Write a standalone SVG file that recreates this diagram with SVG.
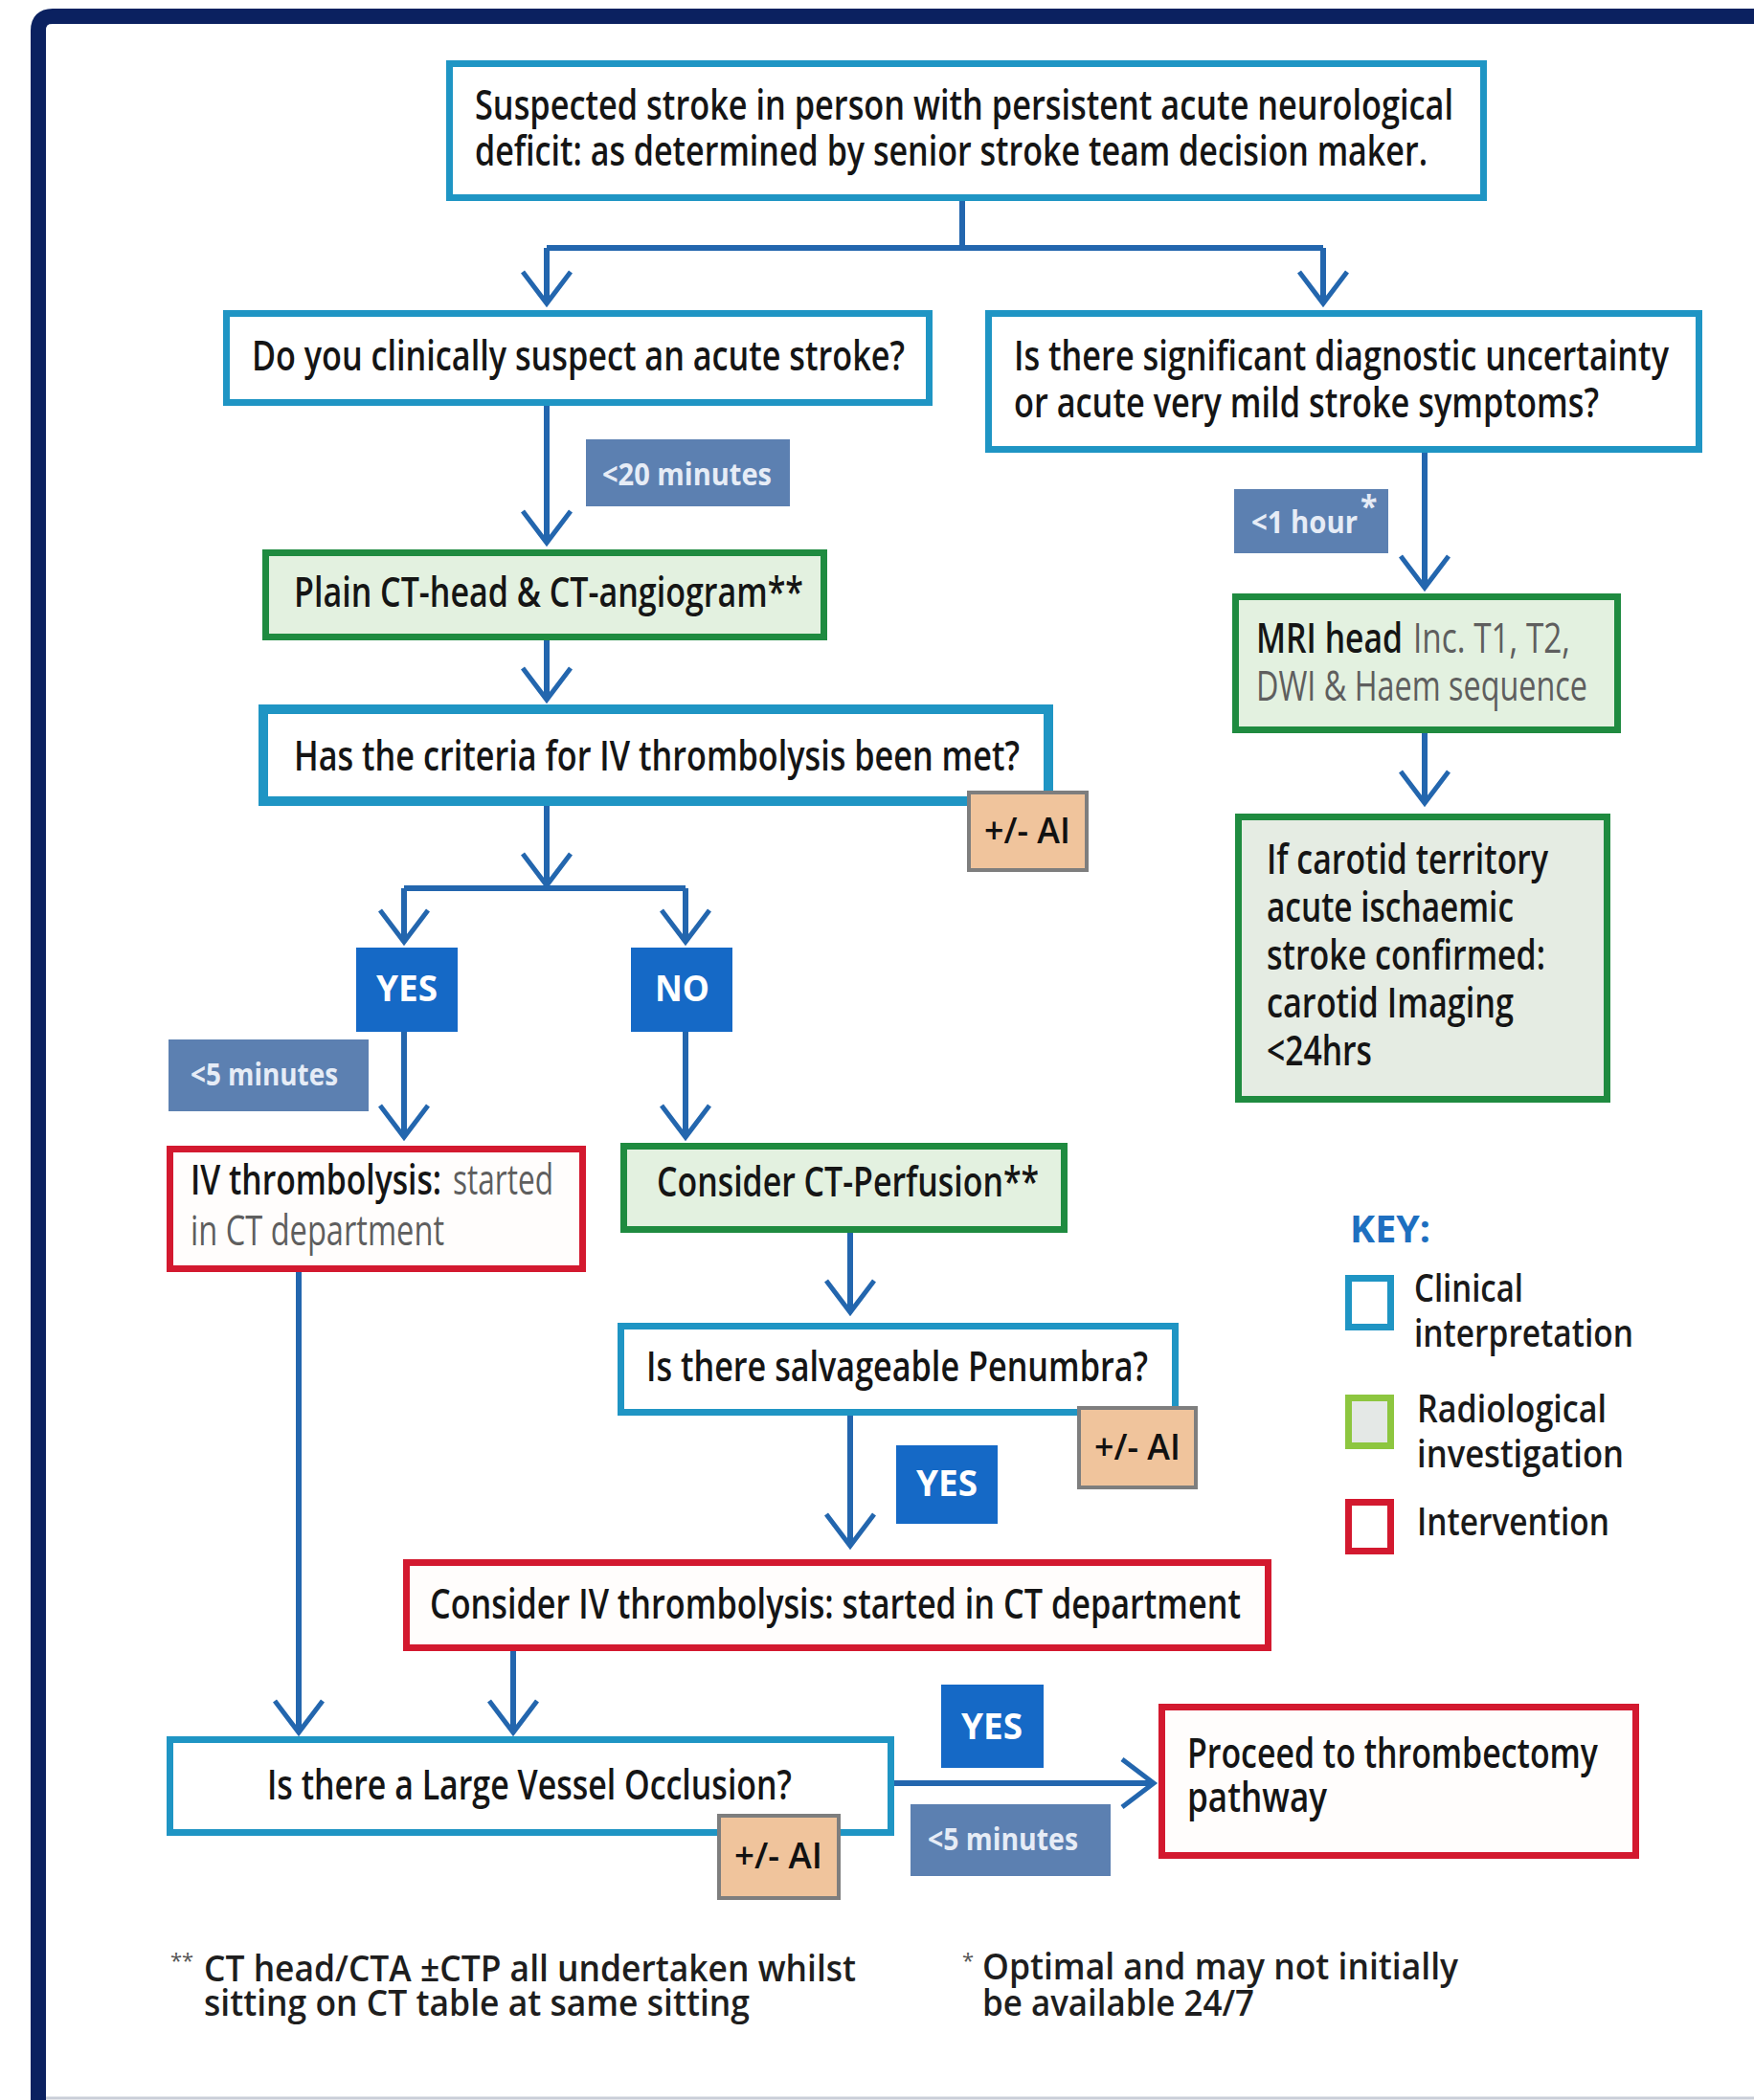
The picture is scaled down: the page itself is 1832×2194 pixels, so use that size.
<svg xmlns="http://www.w3.org/2000/svg" width="1832" height="2194" viewBox="0 0 1832 2194">
<style>
.t{font-family:"Open Sans","Liberation Sans",Arial,sans-serif;font-weight:600;font-size:44px;fill:#151515}
.g{font-weight:400;fill:#5e5e5e}
.lbl{font-family:"Open Sans","Liberation Sans",Arial,sans-serif;font-weight:700;font-size:32px;fill:#e6ecf6}
.yn{font-family:"Open Sans","Liberation Sans",Arial,sans-serif;font-weight:700;font-size:38px;fill:#ffffff}
.ai{font-family:"Open Sans","Liberation Sans",Arial,sans-serif;font-weight:600;font-size:38px;fill:#111}
.fn{font-family:"Open Sans","Liberation Sans",Arial,sans-serif;font-weight:600;font-size:38px;fill:#1e1e1e}
.sup{font-family:"Open Sans","Liberation Sans",Arial,sans-serif;font-weight:400;font-size:22px;fill:#555}
.key{font-family:"Open Sans","Liberation Sans",Arial,sans-serif;font-weight:600;font-size:40px;fill:#1a1a1a}
.clin{fill:#ffffff;stroke:#1f95c4;stroke-width:7}
.rad{fill:#e3f1e0;stroke:#1f8b40;stroke-width:7}
.int{fill:#fffdfc;stroke:#d3192f;stroke-width:7}
.time{fill:#5c80b1}
.ynb{fill:#1569c6}
.aib{fill:#f0c49c;stroke:#7e7e7e;stroke-width:4}
.con{fill:none;stroke:#2366ae;stroke-width:6}
</style>
<defs>
<marker id="arr" markerUnits="userSpaceOnUse" viewBox="-40 -30 46 60" refX="0" refY="0" markerWidth="46" markerHeight="60" orient="auto" overflow="visible">
<path d="M-33,-25 L0,0 L-33,25" fill="none" stroke="#2366ae" stroke-width="5"/>
</marker>
</defs>
<rect width="1832" height="2194" fill="#ffffff"/>
<g id="frame">
<path d="M40,2194 V32 Q40,17 55,17 H1832" fill="none" stroke="#0b2160" stroke-width="16"/>
<line x1="48" y1="2192" x2="1832" y2="2192" stroke="#c9ced8" stroke-width="3"/>
</g>

<g id="connectors">
<path class="con" d="M1005,210 V259 M571,259 H1382"/>
<path class="con" d="M571,259 V317" marker-end="url(#arr)"/>
<path class="con" d="M1382,259 V317" marker-end="url(#arr)"/>
<path class="con" d="M571,424 V567" marker-end="url(#arr)"/>
<path class="con" d="M571,669 V731" marker-end="url(#arr)"/>
<path class="con" d="M571,842 V925" marker-end="url(#arr)"/>
<path class="con" d="M422,928 H716"/>
<path class="con" d="M422,928 V984" marker-end="url(#arr)"/>
<path class="con" d="M716,928 V984" marker-end="url(#arr)"/>
<path class="con" d="M422,1078 V1188" marker-end="url(#arr)"/>
<path class="con" d="M716,1078 V1188" marker-end="url(#arr)"/>
<path class="con" d="M888,1288 V1371" marker-end="url(#arr)"/>
<path class="con" d="M888,1479 V1615" marker-end="url(#arr)"/>
<path class="con" d="M312,1329 V1810" marker-end="url(#arr)"/>
<path class="con" d="M536,1725 V1810" marker-end="url(#arr)"/>
<path class="con" d="M934,1863 H1205" marker-end="url(#arr)"/>
<path class="con" d="M1488,473 V614" marker-end="url(#arr)"/>
<path class="con" d="M1488,766 V839" marker-end="url(#arr)"/>
</g>

<g id="n-suspected">
<rect class="clin" x="469.5" y="66.5" width="1080" height="140"/>
<text class="t" x="496" y="125" textLength="1022" lengthAdjust="spacingAndGlyphs">Suspected stroke in person with persistent acute neurological</text>
<text class="t" x="496" y="173" textLength="995" lengthAdjust="spacingAndGlyphs">deficit: as determined by senior stroke team decision maker.</text>
</g>

<g id="n-clinically">
<rect class="clin" x="236.5" y="327.5" width="734" height="93"/>
<text class="t" x="263" y="387" textLength="682" lengthAdjust="spacingAndGlyphs">Do you clinically suspect an acute stroke?</text>
</g>

<g id="n-uncertainty">
<rect class="clin" x="1032.5" y="327.5" width="742" height="142"/>
<text class="t" x="1059" y="387" textLength="684" lengthAdjust="spacingAndGlyphs">Is there significant diagnostic uncertainty</text>
<text class="t" x="1059" y="436" textLength="611" lengthAdjust="spacingAndGlyphs">or acute very mild stroke symptoms?</text>
</g>

<g id="l-20min">
<rect class="time" x="612" y="459" width="213" height="70"/>
<text class="lbl" x="629" y="507" textLength="177" lengthAdjust="spacingAndGlyphs">&lt;20 minutes</text>
</g>

<g id="n-plainct">
<rect class="rad" x="277.5" y="577.5" width="583" height="88"/>
<text class="t" x="307" y="634" textLength="532" lengthAdjust="spacingAndGlyphs">Plain CT-head &amp; CT-angiogram**</text>
</g>

<g id="n-criteria">
<rect fill="#ffffff" stroke="#1f95c4" stroke-width="10" x="275" y="741" width="820" height="96"/>
<text class="t" x="307" y="805" textLength="758" lengthAdjust="spacingAndGlyphs">Has the criteria for IV thrombolysis been met?</text>
</g>

<g id="ai-1">
<rect class="aib" x="1012" y="828" width="123" height="81"/>
<text class="ai" x="1028" y="881" textLength="90" lengthAdjust="spacingAndGlyphs">+/- AI</text>
</g>

<g id="l-1hour">
<rect class="time" x="1289" y="511" width="161" height="67"/>
<text class="lbl" x="1307" y="557" textLength="111" lengthAdjust="spacingAndGlyphs">&lt;1 hour</text>
<text class="lbl" x="1421" y="541" font-size="20">*</text>
</g>

<g id="n-mri">
<rect class="rad" x="1290.5" y="623.5" width="399" height="139"/>
<text class="t" x="1312" y="682"><tspan textLength="153" lengthAdjust="spacingAndGlyphs">MRI head</tspan><tspan class="g" x="1476" textLength="164" lengthAdjust="spacingAndGlyphs">Inc. T1, T2,</tspan></text>
<text class="t g" x="1312" y="732" textLength="346" lengthAdjust="spacingAndGlyphs">DWI &amp; Haem sequence</text>
</g>

<g id="n-carotid">
<rect fill="#e5ece3" stroke="#1f8b40" stroke-width="7" x="1293.5" y="853.5" width="385" height="295"/>
<text class="t" x="1323" y="913" textLength="294" lengthAdjust="spacingAndGlyphs">If carotid territory</text>
<text class="t" x="1323" y="963" textLength="258" lengthAdjust="spacingAndGlyphs">acute ischaemic</text>
<text class="t" x="1323" y="1013" textLength="291" lengthAdjust="spacingAndGlyphs">stroke confirmed:</text>
<text class="t" x="1323" y="1063" textLength="258" lengthAdjust="spacingAndGlyphs">carotid Imaging</text>
<text class="t" x="1323" y="1113" textLength="110" lengthAdjust="spacingAndGlyphs">&lt;24hrs</text>
</g>

<g id="yes-1">
<rect class="ynb" x="372" y="990" width="106" height="88"/>
<text class="yn" x="393" y="1046" textLength="64" lengthAdjust="spacingAndGlyphs">YES</text>
</g>
<g id="no-1">
<rect class="ynb" x="659" y="990" width="106" height="88"/>
<text class="yn" x="684" y="1046" textLength="57" lengthAdjust="spacingAndGlyphs">NO</text>
</g>

<g id="l-5min-1">
<rect class="time" x="176" y="1086" width="209" height="75"/>
<text class="lbl" x="199" y="1134" textLength="154" lengthAdjust="spacingAndGlyphs">&lt;5 minutes</text>
</g>

<g id="n-ivthrombolysis">
<rect class="int" x="177.5" y="1200.5" width="431" height="125"/>
<text class="t" x="199" y="1248"><tspan textLength="262" lengthAdjust="spacingAndGlyphs">IV thrombolysis:</tspan><tspan class="g" x="473" textLength="105" lengthAdjust="spacingAndGlyphs">started</tspan></text>
<text class="t g" x="199" y="1301" textLength="265" lengthAdjust="spacingAndGlyphs">in CT department</text>
</g>

<g id="n-ctperfusion">
<rect class="rad" x="651.5" y="1197.5" width="460" height="87"/>
<text class="t" x="686" y="1250" textLength="399" lengthAdjust="spacingAndGlyphs">Consider CT-Perfusion**</text>
</g>

<g id="n-penumbra">
<rect class="clin" x="648.5" y="1385.5" width="579" height="90"/>
<text class="t" x="675" y="1443" textLength="524" lengthAdjust="spacingAndGlyphs">Is there salvageable Penumbra?</text>
</g>

<g id="ai-2">
<rect class="aib" x="1127" y="1471" width="122" height="83"/>
<text class="ai" x="1143" y="1525" textLength="90" lengthAdjust="spacingAndGlyphs">+/- AI</text>
</g>

<g id="yes-2">
<rect class="ynb" x="936" y="1510" width="106" height="82"/>
<text class="yn" x="957" y="1563" textLength="64" lengthAdjust="spacingAndGlyphs">YES</text>
</g>

<g id="n-consideriv">
<rect class="int" x="424.5" y="1632.5" width="900" height="89"/>
<text class="t" x="449" y="1691" textLength="847" lengthAdjust="spacingAndGlyphs">Consider IV thrombolysis: started in CT department</text>
</g>

<g id="n-lvo">
<rect class="clin" x="177.5" y="1817.5" width="753" height="97"/>
<text class="t" x="279" y="1880" textLength="548" lengthAdjust="spacingAndGlyphs">Is there a Large Vessel Occlusion?</text>
</g>

<g id="ai-3">
<rect class="aib" x="751" y="1897" width="125" height="86"/>
<text class="ai" x="767" y="1952" textLength="92" lengthAdjust="spacingAndGlyphs">+/- AI</text>
</g>

<g id="yes-3">
<rect class="ynb" x="983" y="1760" width="107" height="87"/>
<text class="yn" x="1004" y="1817" textLength="64" lengthAdjust="spacingAndGlyphs">YES</text>
</g>

<g id="l-5min-2">
<rect class="time" x="951" y="1885" width="209" height="75"/>
<text class="lbl" x="969" y="1933" textLength="157" lengthAdjust="spacingAndGlyphs">&lt;5 minutes</text>
</g>

<g id="n-thrombectomy">
<rect class="int" x="1213.5" y="1783.5" width="495" height="155"/>
<text class="t" x="1240" y="1847" textLength="429" lengthAdjust="spacingAndGlyphs">Proceed to thrombectomy</text>
<text class="t" x="1240" y="1893" textLength="146" lengthAdjust="spacingAndGlyphs">pathway</text>
</g>

<g id="key">
<text x="1410" y="1298" font-family="Open Sans, Liberation Sans, Arial, sans-serif" font-weight="700" font-size="40" fill="#1e6fc0" textLength="84" lengthAdjust="spacingAndGlyphs">KEY:</text>
<rect x="1408.5" y="1335.5" width="44" height="51" fill="#ffffff" stroke="#1f95c4" stroke-width="7"/>
<text class="key" x="1477" y="1360" textLength="114" lengthAdjust="spacingAndGlyphs">Clinical</text>
<text class="key" x="1477" y="1407" textLength="229" lengthAdjust="spacingAndGlyphs">interpretation</text>
<rect x="1408.5" y="1460.5" width="44" height="50" fill="#e4e8e6" stroke="#8dc63f" stroke-width="7"/>
<text class="key" x="1480" y="1486" textLength="198" lengthAdjust="spacingAndGlyphs">Radiological</text>
<text class="key" x="1480" y="1533" textLength="216" lengthAdjust="spacingAndGlyphs">investigation</text>
<rect x="1408.5" y="1569.5" width="44" height="51" fill="#ffffff" stroke="#d3192f" stroke-width="7"/>
<text class="key" x="1480" y="1604" textLength="201" lengthAdjust="spacingAndGlyphs">Intervention</text>
</g>

<g id="footnotes">
<text class="sup" x="178" y="2056">**</text>
<text class="fn" x="213" y="2070" textLength="681" lengthAdjust="spacingAndGlyphs">CT head/CTA ±CTP all undertaken whilst</text>
<text class="fn" x="213" y="2106" textLength="570" lengthAdjust="spacingAndGlyphs">sitting on CT table at same sitting</text>
<text class="sup" x="1005" y="2056">*</text>
<text class="fn" x="1026" y="2068" textLength="497" lengthAdjust="spacingAndGlyphs">Optimal and may not initially</text>
<text class="fn" x="1026" y="2106" textLength="284" lengthAdjust="spacingAndGlyphs">be available 24/7</text>
</g>
</svg>
